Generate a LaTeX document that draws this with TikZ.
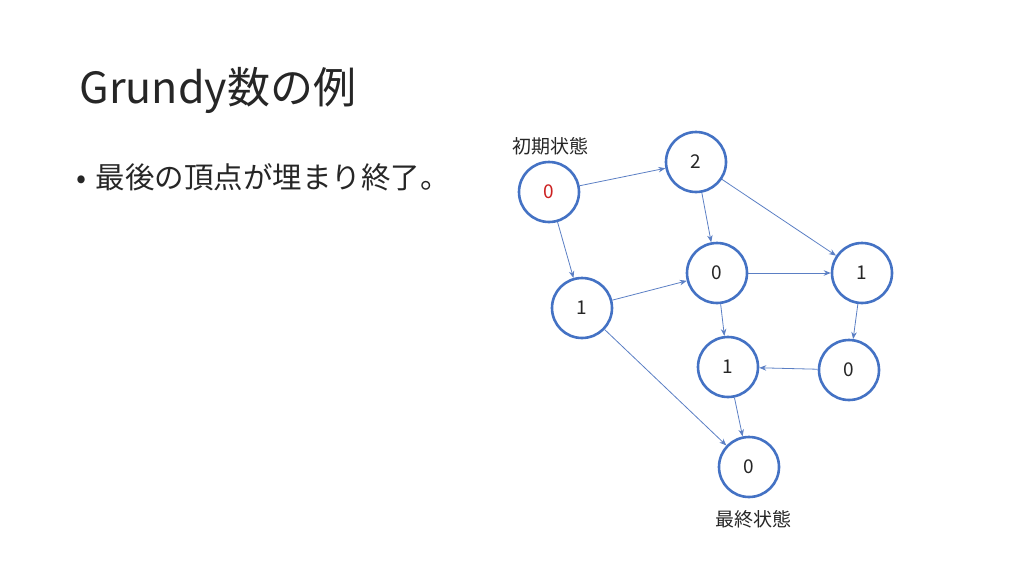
\documentclass[tikz,border=0pt]{standalone}
\usepackage{fontspec}
\setmainfont{Noto Sans CJK JP}
\usetikzlibrary{arrows.meta}

\definecolor{azulBorde}{HTML}{4472C4}
\definecolor{azulLinea}{HTML}{5B7FC4}
\definecolor{rojoIni}{RGB}{204,32,32}
\definecolor{textoGris}{HTML}{262626}

\begin{document}
\begin{tikzpicture}[
    x=1pt, y=-1pt,
    every node/.style={font=\fontsize{19}{23}\selectfont, text=textoGris},
    vertice/.style={circle, draw=azulBorde, line width=2.6pt, fill=white, minimum size=60pt, inner sep=0pt},
    arista/.style={draw=azulLinea, line width=0.8pt, -{Stealth[length=7pt, width=5.5pt]}}
  ]
  \useasboundingbox (0,0) rectangle (1024,576);

  % ---------------- Titulo y texto ----------------
  \node (titulo) [anchor=base west, font=\fontsize{43}{50}\selectfont] at (76,103) {Grundy数の例};
  \node (vineta) [anchor=west, font=\fontsize{29.5}{35}\selectfont] at (73,177) {•\hspace{9pt}最後の頂点が埋まり終了。};

  % ---------------- Vertices ----------------
  \node (v1) [vertice, text=rojoIni] at (549,192) {0};
  \node (v2) [vertice] at (696,162) {2};
  \node (v3) [vertice] at (717,273) {0};
  \node (v4) [vertice] at (862,273) {1};
  \node (v5) [vertice] at (582,308) {1};
  \node (v6) [vertice] at (728,367) {1};
  \node (v7) [vertice] at (849,370) {0};
  \node (v8) [vertice] at (749,467) {0};

  % Etiquetas de estado
  \node (etiqIni) at (550,146) {初期状態};
  \node (etiqFin) at (753,519) {最終状態};

  % ---------------- Aristas ----------------
  \draw [arista] (v1) -- (v2);
  \draw [arista] (v1) -- (v5);
  \draw [arista] (v2) -- (v3);
  \draw [arista] (v2) -- (v4);
  \draw [arista] (v5) -- (v3);
  \draw [arista] (v3) -- (v4);
  \draw [arista] (v3) -- (v6);
  \draw [arista] (v4) -- (v7);
  \draw [arista] (v7) -- (v6);
  \draw [arista] (v6) -- (v8);
  \draw [arista] (v5) -- (v8);

\end{tikzpicture}
\end{document}
